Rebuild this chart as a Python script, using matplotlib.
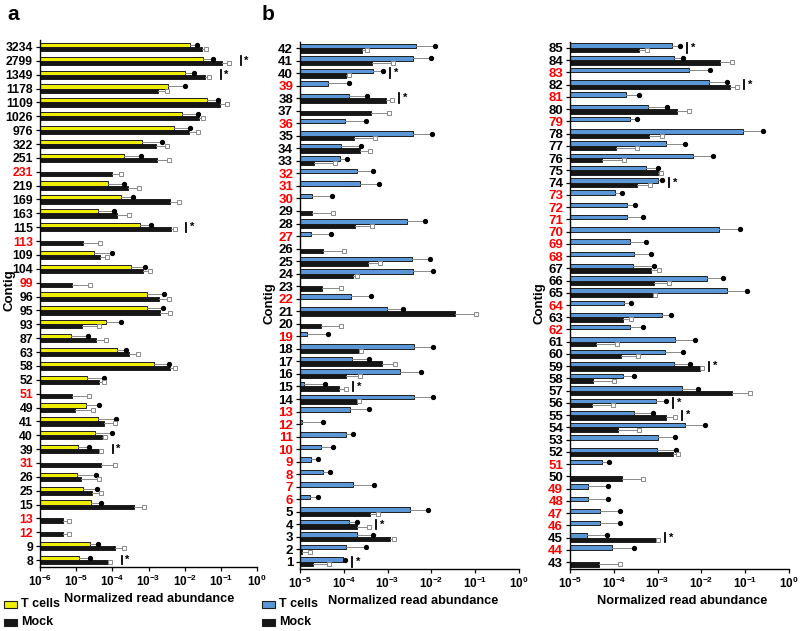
import numpy as np
import matplotlib
matplotlib.use('Agg')
import matplotlib.pyplot as plt
from matplotlib.patches import Rectangle

plt.rcParams['font.family'] = ['Liberation Sans', 'DejaVu Sans']
plt.rcParams['font.weight'] = 'bold'
plt.rcParams['mathtext.fontset'] = 'custom'
plt.rcParams['mathtext.rm'] = 'Liberation Sans:bold'
plt.rcParams['mathtext.bf'] = 'Liberation Sans:bold'
plt.rcParams['mathtext.it'] = 'Liberation Sans:bold'

N = None
# ---------------- Panel a (log10 of normalized read abundance) ----------------
contigs_a = ['3234', '2799', '1349', '1178', '1109', '1026', '976', '322', '251', '231',
             '219', '169', '163', '115', '113', '109', '104', '99', '96', '95',
             '93', '87', '63', '58', '52', '51', '49', '41', '40', '39',
             '31', '26', '25', '15', '13', '12', '9', '8']
tcell_a = [-1.85, -1.48, -1.98, -2.45, -1.38, -2.08, -2.29, -3.18, -3.67, N,
           -4.13, -3.77, -4.41, -3.23, N, -4.50, -3.49, N, -3.05, -3.05,
           -4.18, -5.15, -3.86, -2.84, -4.71, N, -4.73, -4.40, -4.48, -4.94,
           N, -4.98, -4.82, -4.60, N, N, -4.61, -4.91]
mock_a = [-1.52, -0.97, -1.43, -2.74, -1.01, -1.61, -1.89, -2.79, -2.77, -4.01,
          -3.58, -2.40, -3.86, -2.38, -4.80, -4.34, -3.16, -5.12, -2.72, -2.69,
          -4.85, -4.45, -3.55, -2.40, -4.38, -5.12, -5.02, -4.22, -4.29, -4.38,
          -4.32, -4.86, -4.57, -3.41, -5.37, -5.37, -3.94, -4.13]
# upper spread (decades above mean) to the highest replicate
tcell_a_up = [0.20, 0.25, 0.25, 0.45, 0.30, 0.45, 0.45, 0.55, 0.45, N,
              0.45, 0.33, 0.45, 0.30, N, 0.50, 0.40, N, 0.48, 0.45,
              0.42, 0.48, 0.24, 0.40, 0.48, N, 0.36, 0.50, 0.48, 0.30,
              N, 0.53, 0.40, 0.30, N, N, 0.20, 0.28]
mock_a_up = [0.12, 0.20, 0.10, 0.25, 0.18, 0.12, 0.25, 0.30, 0.35, 0.25,
             0.33, 0.25, 0.33, 0.10, 0.45, 0.20, 0.20, 0.50, 0.30, 0.28,
             0.48, 0.28, 0.25, 0.12, 0.15, 0.48, 0.48, 0.30, 0.10, 0.07,
             0.40, 0.48, 0.25, 0.28, 0.18, 0.18, 0.25, 0.06]
red_a = ['231', '113', '99', '51', '31', '13', '12']
sig_a = ['2799', '1349', '115', '39', '8']

# ---------------- Panel b, left column ----------------
contigs_b1 = [str(c) for c in range(42, 0, -1)]
tcell_b1 = [-2.36, -2.43, -3.34, -4.36, -3.89, N, -3.97, -2.43, -4.07, -4.09,
            -3.71, -3.62, -4.72, N, -2.55, -4.76, N, -2.45, -2.43, N,
            -3.84, -3.01, N, -4.83, -2.40, -3.82, -2.71, -4.90, -2.40, -3.86,
            -4.95, -3.95, -4.53, -4.76, -4.47, -3.78, -4.77, -2.48, -3.88, -3.71,
            -3.94, -4.01]
mock_b1 = [-3.59, -3.36, -3.95, N, -3.04, -3.39, N, -3.77, -3.63, -4.68,
           N, N, N, -4.73, -3.75, N, -4.47, -3.45, -3.78, -4.50,
           N, -1.47, -4.51, N, -3.65, -3.12, -3.94, -4.12, -3.71, N,
           N, N, N, N, N, N, N, -3.40, -3.69, -2.95,
           -4.96, -4.70]
tcell_b1_up = [0.45, 0.43, 0.23, 0.49, 0.41, N, 0.47, 0.44, 0.47, 0.17,
               0.38, 0.42, 0.46, N, 0.41, 0.46, N, 0.42, 0.46, N,
               0.46, 0.36, N, 0.47, 0.44, 0.40, 0.47, 0.48, 0.43, 0.44,
               0.48, 0.17, 0.29, 0.17, 0.15, 0.46, 0.18, 0.40, 0.18, 0.38,
               0.44, 0.04]
mock_b1_up = [0.11, 0.49, 0.08, N, 0.15, 0.43, N, 0.49, 0.23, 0.48,
              N, N, N, 0.48, 0.39, N, 0.47, 0.27, 0.09, 0.44,
              N, 0.48, 0.44, N, 0.04, 0.29, 0.30, 0.18, 0.05, N,
              N, N, N, N, N, N, N, 0.19, 0.27, 0.10,
              0.19, 0.36]
red_b1 = ['39', '36', '32', '31', '30', '27', '22', '19', '13', '12', '11', '10',
          '9', '8', '7', '6']
sig_b1 = ['40', '38', '15', '4', '1']

# ---------------- Panel b, right column ----------------
contigs_b2 = [str(c) for c in range(85, 42, -1)]
tcell_b2 = [-2.68, -2.62, -2.28, -1.82, -3.72, -3.22, -3.63, -1.06, -2.80, -2.20,
            -3.27, -2.99, -3.98, -3.69, -3.69, -1.60, -3.62, -3.54, -3.56, -1.88,
            -1.41, -3.77, -2.89, -3.62, -2.60, -2.83, -2.62, -3.78, -2.45, -3.04,
            -3.54, -2.37, -2.99, -3.02, -4.28, N, -4.60, -4.60, -4.32, -4.32,
            -4.62, -4.03, N]
mock_b2 = [-3.42, -1.57, N, -1.35, N, -2.55, N, -3.19, -3.95, -4.26,
           -3.00, -3.48, N, N, N, N, N, N, -3.14, -3.09,
           -3.10, N, -3.78, N, -4.41, -3.84, -2.04, -4.47, -1.31, -4.49,
           -2.80, -3.90, N, -2.64, N, -3.81, N, N, N, N,
           -3.01, N, -4.34]
tcell_b2_up = [0.19, 0.21, 0.47, 0.40, 0.29, 0.43, 0.17, 0.47, 0.43, 0.46,
               0.27, 0.10, 0.17, 0.17, 0.35, 0.49, 0.36, 0.38, 0.47, 0.38,
               0.44, 0.16, 0.19, 0.29, 0.45, 0.40, 0.36, 0.25, 0.38, 0.24,
               0.43, 0.45, 0.38, 0.44, 0.17, N, 0.46, 0.46, 0.47, 0.47,
               0.47, 0.48, N]
mock_b2_up = [0.18, 0.27, N, 0.17, N, 0.27, N, 0.29, 0.49, 0.49,
              0.07, 0.30, N, N, N, N, N, N, 0.17, 0.35,
              0.05, N, 0.17, N, 0.49, 0.39, 0.05, 0.47, 0.43, 0.48,
              0.19, 0.47, N, 0.11, N, 0.47, N, N, N, N,
              0.03, N, 0.48]
red_b2 = ['83', '81', '79', '73', '72', '71', '70', '69', '68', '64', '62', '51',
          '49', '48', '47', '46', '44']
sig_b2 = ['85', '82', '74', '59', '56', '55', '45']

W, H = 800, 631
fig = plt.figure(figsize=(W / 100, H / 100), dpi=100)

EDGE = '#1e1e1e'
ERRC = '#8a8a8a'


def panel(rect, contigs, tv, mv, tup, mup, red, sig, xmin_exp, tcolor, fs,
          bh, ylim, sig_off, ylab_xy, xlab_xy):
    ax = fig.add_axes(rect)
    n = len(contigs)
    xmin = 10.0 ** xmin_exp
    for i, c in enumerate(contigs):
        y = n - 1 - i
        yt, ym = y + bh / 2, y - bh / 2
        tops = []
        for v, up, yy, col, kind in ((tv[i], tup[i], yt, tcolor, 't'),
                                     (mv[i], mup[i], ym, '#161616', 'm')):
            if v is None:
                continue
            val = 10.0 ** v
            hi = 10.0 ** (v + up)
            ax.barh(yy, val - xmin, left=xmin, height=bh, color=col,
                    edgecolor=EDGE, linewidth=0.7, zorder=2)
            ax.plot([val, hi], [yy, yy], color=ERRC, lw=0.7, zorder=3)
            ax.plot([hi, hi], [yy - bh * 0.25, yy + bh * 0.25], color=ERRC,
                    lw=0.7, zorder=3)
            if kind == 't':
                ax.plot(hi, yy, 'o', ms=2.8, color='black', zorder=4)
            else:
                ax.plot(hi, yy, 's', ms=3.0, mfc='white', mec='#8a8a8a',
                        mew=0.7, zorder=4)
            tops.append(v + up)
        if c in sig:
            xs = 10.0 ** (max(tops) + sig_off)
            ax.plot([xs, xs], [y - bh * 1.05, y + bh * 1.05], color='black',
                    lw=1.3, zorder=4)
            ax.text(xs * 10 ** 0.09, y, '*', ha='left', va='center',
                    fontsize=8, fontweight='bold')
    ax.set_xscale('log')
    ax.set_xlim(xmin, 1.0)
    ax.set_ylim(*ylim)
    ax.minorticks_off()
    exps = list(range(xmin_exp, 1))
    ax.set_xticks([10.0 ** e for e in exps])
    ax.set_xticklabels(['$\\mathbf{10^{%d}}$' % e for e in exps], fontsize=8.5)
    ax.set_yticks([n - 1 - i for i in range(n)])
    ax.set_yticklabels(contigs, fontsize=fs, fontweight='bold')
    for lab, c in zip(ax.get_yticklabels(), contigs):
        lab.set_color('#ff0000' if c in red else 'black')
    for s in ('top', 'right'):
        ax.spines[s].set_visible(False)
    for s in ('left', 'bottom'):
        ax.spines[s].set_linewidth(1.0)
    ax.tick_params(axis='both', length=3, width=0.9, pad=2)
    ax.set_ylabel('Contig', fontsize=9.5, fontweight='bold')
    ax.yaxis.set_label_coords(*ylab_xy)
    ax.set_xlabel('Normalized read abundance', fontsize=9.2, fontweight='bold')
    ax.xaxis.set_label_coords(*xlab_xy)
    return ax


YEL = '#f0ee00'
BLU = '#5b97d6'

panel([40 / W, 1 - 567 / H, 217 / W, 527 / H], contigs_a, tcell_a, mock_a,
      tcell_a_up, mock_a_up, red_a, sig_a, -6, YEL, 8.8, 0.30,
      (-0.5, len(contigs_a) - 0.5), 0.33, (-0.115, 0.525), (0.505, -0.049))
panel([300 / W, 1 - 569 / H, 219 / W, 527 / H], contigs_b1, tcell_b1, mock_b1,
      tcell_b1_up, mock_b1_up, red_b1, sig_b1, -5, BLU, 9.5, 0.36,
      (-0.56, len(contigs_b1) - 1 + 0.48), 0.16, (-0.114, 0.505), (0.515, -0.049))
panel([570 / W, 1 - 569 / H, 219 / W, 527 / H], contigs_b2, tcell_b2, mock_b2,
      tcell_b2_up, mock_b2_up, red_b2, sig_b2, -5, BLU, 9.5, 0.36,
      (-0.56, len(contigs_b2) - 1 + 0.48), 0.16, (-0.114, 0.505), (0.51, -0.049))


def legend(x0, tcolor):
    for yc, col, txt in ((604, tcolor, 'T cells'), (622, '#161616', 'Mock')):
        fig.patches.append(Rectangle((x0 / W, 1 - (yc + 3.5) / H), 13 / W, 7 / H,
                                     transform=fig.transFigure, facecolor=col,
                                     edgecolor=EDGE, linewidth=0.8))
        fig.text((x0 + 17) / W, 1 - yc / H, txt, fontsize=9, fontweight='bold',
                 va='center', ha='left')


legend(4, YEL)
legend(262, BLU)

fig.text(13 / W, 1 - 15 / H, 'a', fontsize=15, fontweight='bold', ha='center', va='center')
fig.text(268 / W, 1 - 15 / H, 'b', fontsize=15, fontweight='bold', ha='center', va='center')

fig.savefig('out.png', dpi=100)
